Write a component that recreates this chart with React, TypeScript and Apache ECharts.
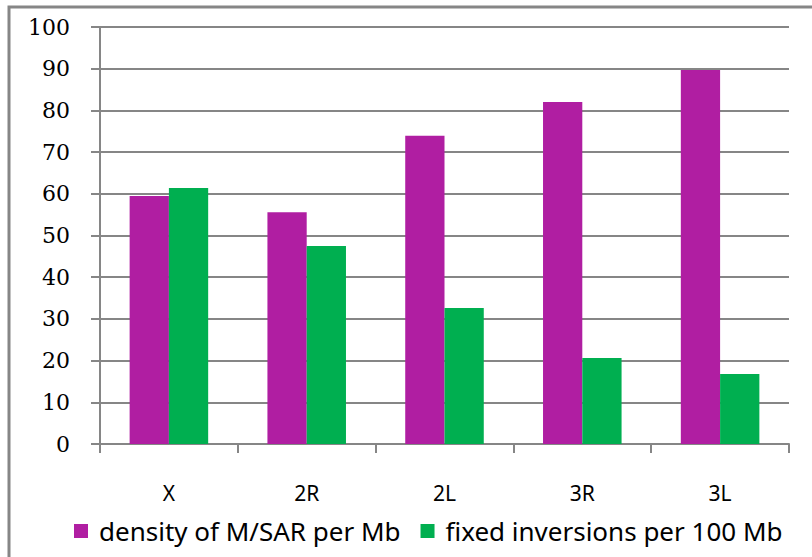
import React, { useEffect, useRef } from "react";
import * as echarts from "echarts";

const categories = ["X", "2R", "2L", "3R", "3L"];
const densityMSAR = [59.5, 55.6, 73.9, 82.0, 89.7];
const fixedInversions = [61.4, 47.5, 32.6, 20.6, 16.8];
const seriesNames = ["density of M/SAR per Mb", "fixed inversions per 100 Mb"];

const GRID_GRAY = "#868686";

export default function App() {
  const ref = useRef<HTMLDivElement>(null);

  useEffect(() => {
    if (!ref.current) return;
    const chart = echarts.init(ref.current, null, { renderer: "svg" });
    chart.setOption({
      animation: false,
      backgroundColor: "#ffffff",
      graphic: [
        {
          type: "rect",
          shape: { x: 9, y: 7, width: 900, height: 700 },
          style: { fill: "none", stroke: GRID_GRAY, lineWidth: 3 },
          silent: true,
        },
      ],
      legend: {
        data: seriesNames,
        bottom: 8,
        left: 69,
        icon: "rect",
        itemWidth: 14,
        itemHeight: 14,
        itemGap: 20,
        textStyle: {
          fontFamily: "Noto Sans",
          fontSize: 26,
          color: "#000",
          padding: [0, 0, 0, 6],
        },
      },
      grid: { left: 100, right: 23, top: 27, bottom: 113, containLabel: false },
      xAxis: {
        type: "category",
        data: categories,
        axisLine: { lineStyle: { color: GRID_GRAY, width: 2 } },
        axisTick: { show: true, length: 9, lineStyle: { color: GRID_GRAY, width: 2 } },
        axisLabel: { margin: 38, fontFamily: "Noto Sans", fontSize: 21, color: "#000" },
      },
      yAxis: {
        type: "value",
        min: 0,
        max: 100,
        interval: 10,
        axisLine: { show: true, lineStyle: { color: GRID_GRAY, width: 2 } },
        axisTick: { show: true, length: 9, lineStyle: { color: GRID_GRAY, width: 2 } },
        axisLabel: { margin: 30, fontFamily: "DejaVu Serif", fontSize: 22, color: "#000" },
        splitLine: { show: true, lineStyle: { color: GRID_GRAY, width: 2 } },
      },
      series: [
        {
          name: seriesNames[0],
          type: "bar",
          data: densityMSAR,
          barGap: "0%",
          barCategoryGap: "43%",
          itemStyle: { color: "#B01EA2" },
        },
        {
          name: seriesNames[1],
          type: "bar",
          data: fixedInversions,
          itemStyle: { color: "#00AF50" },
        },
      ],
    });
    return () => chart.dispose();
  }, []);

  return (
    <div
      ref={ref}
      style={{ position: "absolute", left: 0, top: 0, width: 812, height: 557 }}
    />
  );
}
